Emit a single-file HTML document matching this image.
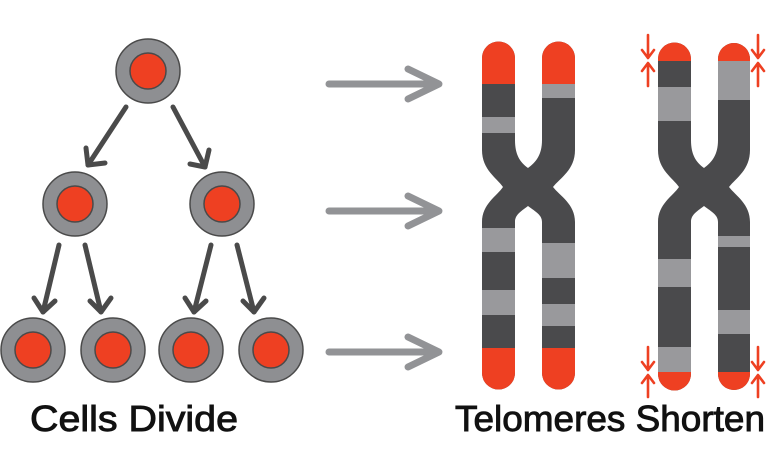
<!DOCTYPE html>
<html><head><meta charset="utf-8"><style>
html,body{margin:0;padding:0;background:#fff;width:768px;height:474px;overflow:hidden}
svg{display:block}
text{font-family:"Liberation Sans",sans-serif;fill:#111;stroke:#111;stroke-width:0.9}
</style></head><body>
<svg width="768" height="474" viewBox="0 0 768 474" xmlns="http://www.w3.org/2000/svg">
<defs>
<clipPath id="c1"><path d="M482,58 A16.5,16.5 0 0 1 515,58 L515,140 C515,155 520,162 528,168 C536,162 542,155 542,140 L542,58 A16.5,16.5 0 0 1 575,58 L575,150 C575,170 560,178 553,187 C560,196 575,204 575,222 L575,373 A16.5,16.5 0 0 1 542,373 L542,222 C542,215 536,212 528,206 C520,212 515,215 515,222 L515,373 A16.5,16.5 0 0 1 482,373 L482,222 C482,204 497,196 503,187 C497,178 482,170 482,150 Z"/></clipPath>
<clipPath id="c2"><path d="M658,59 A16.5,16.5 0 0 1 691,59 L691,140 C691,155 696,162 704,168 C712,162 718,155 718,140 L718,59 A16,16 0 0 1 750,59 L750,150 C750,170 736,178 729,187 C736,196 750,204 750,222 L750,374 A16,16 0 0 1 718,374 L718,222 C718,215 712,212 704,206 C696,212 691,215 691,222 L691,374 A16.5,16.5 0 0 1 658,374 L658,222 C658,204 673,196 679,187 C673,178 658,170 658,150 Z"/></clipPath>
</defs>
<g stroke="#4a4a4a" stroke-width="1.5">
<g fill="#8e8f92">
<circle cx="148" cy="71" r="32"/>
<circle cx="75" cy="204" r="32"/><circle cx="222" cy="204" r="32"/>
<circle cx="33" cy="350" r="32"/><circle cx="113" cy="350" r="32"/><circle cx="191" cy="350" r="32"/><circle cx="271" cy="350" r="32"/>
</g>
<g fill="#ee4022">
<circle cx="148" cy="71" r="18"/>
<circle cx="75" cy="204" r="18"/><circle cx="222" cy="204" r="18"/>
<circle cx="33" cy="350" r="18"/><circle cx="113" cy="350" r="18"/><circle cx="191" cy="350" r="18"/><circle cx="271" cy="350" r="18"/>
</g>
</g>
<g stroke="#4a4a4a" stroke-width="5" stroke-linecap="round" stroke-linejoin="round" fill="none">
<path d="M126,107 L88,165"/><path d="M86,148 L88,165 L105,163"/>
<path d="M173,107 L205,167"/><path d="M190,164 L205,167 L209,150"/>
<path d="M59,245 L43,312"/><path d="M34,298 L43,312 L55,301"/>
<path d="M85,245 L101,312"/><path d="M90,301 L101,312 L111,298"/>
<path d="M211,245 L194,312"/><path d="M185,298 L194,312 L206,301"/>
<path d="M237,245 L254,312"/><path d="M243,301 L254,312 L264,298"/>
</g>
<g stroke="#929396" stroke-width="7" stroke-linecap="round" stroke-linejoin="round" fill="none">
<path d="M329,84 L438,84"/><path d="M408,69 L439,84 L408,99"/>
<path d="M329,211 L438,211"/><path d="M408,196 L439,211 L408,226"/>
<path d="M329,352 L438,352"/><path d="M408,337 L439,352 L408,367"/>
</g>
<g clip-path="url(#c1)">
<rect x="470" y="30" width="120" height="380" fill="#4a4a4c"/>
<rect x="470" y="30" width="120" height="54" fill="#ee4022"/>
<rect x="470" y="348" width="120" height="60" fill="#ee4022"/>
<g fill="#99999c">
<rect x="480" y="117" width="36" height="16"/>
<rect x="480" y="228" width="36" height="24"/>
<rect x="480" y="290" width="36" height="25"/>
<rect x="541" y="84" width="36" height="14"/>
<rect x="541" y="243" width="36" height="35"/>
<rect x="541" y="304" width="36" height="22"/>
</g>
</g>
<g clip-path="url(#c2)">
<rect x="650" y="30" width="110" height="380" fill="#4a4a4c"/>
<rect x="650" y="30" width="110" height="31" fill="#ee4022"/>
<rect x="650" y="372" width="110" height="30" fill="#ee4022"/>
<g fill="#99999c">
<rect x="656" y="87" width="36" height="34"/>
<rect x="656" y="259" width="36" height="28"/>
<rect x="656" y="347" width="36" height="25"/>
<rect x="716" y="61" width="36" height="39"/>
<rect x="716" y="236" width="36" height="11"/>
<rect x="716" y="310" width="36" height="24"/>
</g>
</g>
<g stroke="#ee4022" stroke-width="2.6" fill="none" stroke-linecap="round" stroke-linejoin="round">
<path d="M648,35 L648,58 M642,50 L648,58 L654,50"/>
<path d="M648,86 L648,63 M642,71 L648,63 L654,71"/>
<path d="M758,35 L758,58 M752,50 L758,58 L764,50"/>
<path d="M758,86 L758,63 M752,71 L758,63 L764,71"/>
<path d="M648,347 L648,370 M642,362 L648,370 L654,362"/>
<path d="M648,397 L648,375 M642,383 L648,375 L654,383"/>
<path d="M758,347 L758,370 M752,362 L758,370 L764,362"/>
<path d="M758,397 L758,375 M752,383 L758,375 L764,383"/>
</g>
<text x="30" y="431" font-size="36" textLength="208" lengthAdjust="spacingAndGlyphs">Cells Divide</text>
<text x="455" y="431" font-size="36" textLength="310" lengthAdjust="spacingAndGlyphs">Telomeres Shorten</text>
</svg>
</body></html>
